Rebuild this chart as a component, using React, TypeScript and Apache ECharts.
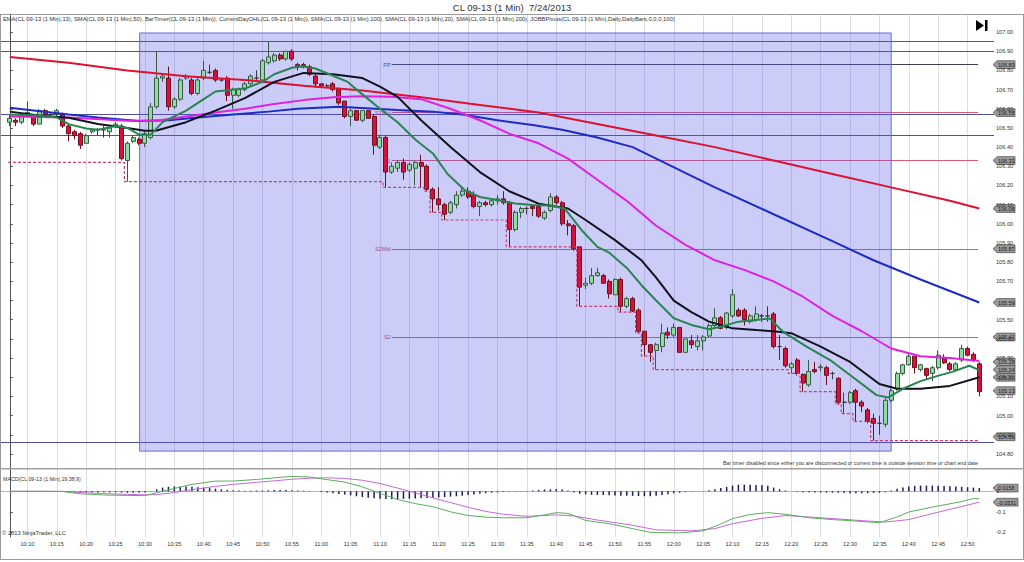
import React, { useEffect, useRef } from "react";
import * as echarts from "echarts";

const FONT = "'Liberation Sans', Arial, sans-serif";

const TITLE = "CL 09-13 (1 Min)  7/24/2013";
const INDICATORS =
  "EMA(CL 09-13 (1 Min),13), SMA(CL 09-13 (1 Min),50), BarTimer(CL 09-13 (1 Min)), CurrentDayOHL(CL 09-13 (1 Min)), SMA(CL 09-13 (1 Min),100), SMA(CL 09-13 (1 Min),20), SMA(CL 09-13 (1 Min),200), JOBBPivots(CL 09-13 (1 Min),Daily,DailyBars,0,0,0,100)";
const MACD_TITLE = "MACD(CL 09-13 (1 Min),19,38,9)";
const BAR_TIMER_NOTE =
  "Bar timer disabled since either you are disconnected or current time is outside session time or chart end date";
const COPYRIGHT = "\u00a9 2013 NinjaTrader, LLC";

// first bar 10:07, one bar per minute
const FIRST_BAR_MINUTE = 10 * 60 + 7;
const N_CATS = 169; // one empty slot before, two after the 166 bars
const X_MIN = -1.5;
const X_MAX = 167.5;

const TIME_LABELS = [
  "10:10", "10:15", "10:20", "10:25", "10:30", "10:35", "10:40", "10:45", "10:50", "10:55",
  "11:00", "11:05", "11:10", "11:15", "11:20", "11:25", "11:30", "11:35", "11:40", "11:45",
  "11:50", "11:55", "12:00", "12:05", "12:10", "12:15", "12:20", "12:25", "12:30", "12:35",
  "12:40", "12:45", "12:50",
];
const PRICE_TICKS = [
  104.8, 104.9, 105.0, 105.1, 105.2, 105.3, 105.4, 105.5, 105.6, 105.7, 105.8, 105.9,
  106.0, 106.1, 106.2, 106.3, 106.4, 106.5, 106.6, 106.7, 106.8, 106.9, 107.0,
];
// labels hidden behind value tags in the original
const PRICE_LABELS_HIDDEN = [105.6];
const MACD_TICKS = [0, -0.1, -0.2];
const PRICE_MIN = 104.727;
const PRICE_MAX = 107.094;
const MACD_MIN = -0.223;
const MACD_MAX = 0.109;

// [open, close, low, high]
const CANDLES: number[][] = [
  [106.53, 106.55, 106.51, 106.57], [106.54, 106.53, 106.51, 106.55], [106.53, 106.56, 106.52, 106.57],
  [106.57, 106.58, 106.56, 106.64], [106.56, 106.52, 106.51, 106.57], [106.52, 106.59, 106.52, 106.6],
  [106.59, 106.57, 106.56, 106.6], [106.57, 106.57, 106.56, 106.58], [106.57, 106.59, 106.56, 106.6],
  [106.57, 106.51, 106.5, 106.58], [106.51, 106.47, 106.43, 106.52], [106.48, 106.46, 106.44, 106.49],
  [106.47, 106.41, 106.39, 106.48], [106.42, 106.46, 106.42, 106.47], [106.48, 106.49, 106.47, 106.5],
  [106.49, 106.49, 106.46, 106.5], [106.49, 106.49, 106.45, 106.51], [106.48, 106.5, 106.45, 106.51],
  [106.51, 106.52, 106.5, 106.53], [106.51, 106.34, 106.33, 106.52], [106.33, 106.42, 106.22, 106.43],
  [106.43, 106.45, 106.42, 106.46], [106.44, 106.42, 106.41, 106.45], [106.42, 106.47, 106.4, 106.48],
  [106.45, 106.61, 106.44, 106.63], [106.61, 106.76, 106.6, 106.9], [106.76, 106.77, 106.74, 106.78],
  [106.76, 106.61, 106.59, 106.82], [106.61, 106.65, 106.6, 106.66], [106.65, 106.75, 106.64, 106.76],
  [106.76, 106.77, 106.75, 106.78], [106.75, 106.68, 106.67, 106.76], [106.68, 106.75, 106.67, 106.76],
  [106.76, 106.8, 106.75, 106.85], [106.79, 106.79, 106.78, 106.83], [106.8, 106.75, 106.74, 106.81],
  [106.75, 106.75, 106.74, 106.76], [106.76, 106.67, 106.64, 106.77], [106.67, 106.7, 106.6, 106.71],
  [106.67, 106.7, 106.66, 106.71], [106.7, 106.73, 106.69, 106.74], [106.73, 106.77, 106.72, 106.78],
  [106.76, 106.76, 106.75, 106.8], [106.75, 106.85, 106.74, 106.86], [106.84, 106.87, 106.83, 106.95],
  [106.85, 106.88, 106.84, 106.89], [106.88, 106.86, 106.85, 106.89], [106.86, 106.9, 106.85, 106.9],
  [106.9, 106.86, 106.85, 106.91], [106.83, 106.82, 106.8, 106.84], [106.83, 106.82, 106.81, 106.84],
  [106.82, 106.78, 106.77, 106.83], [106.77, 106.73, 106.71, 106.78], [106.73, 106.72, 106.71, 106.73],
  [106.72, 106.72, 106.71, 106.73], [106.73, 106.7, 106.69, 106.74], [106.7, 106.63, 106.62, 106.71],
  [106.64, 106.56, 106.55, 106.64], [106.56, 106.59, 106.51, 106.6], [106.59, 106.54, 106.54, 106.59],
  [106.54, 106.59, 106.53, 106.59], [106.59, 106.55, 106.55, 106.59], [106.56, 106.41, 106.36, 106.57],
  [106.4, 106.45, 106.39, 106.46], [106.45, 106.27, 106.19, 106.46], [106.27, 106.3, 106.26, 106.32],
  [106.29, 106.32, 106.27, 106.33], [106.32, 106.27, 106.23, 106.34], [106.28, 106.31, 106.27, 106.32],
  [106.29, 106.32, 106.2, 106.33], [106.32, 106.3, 106.19, 106.36], [106.3, 106.18, 106.17, 106.31],
  [106.18, 106.13, 106.06, 106.19], [106.13, 106.1, 106.07, 106.19], [106.1, 106.05, 106.02, 106.11],
  [106.06, 106.11, 106.05, 106.12], [106.1, 106.15, 106.08, 106.17], [106.15, 106.17, 106.14, 106.19],
  [106.17, 106.14, 106.13, 106.19], [106.15, 106.09, 106.08, 106.17], [106.09, 106.11, 106.04, 106.12],
  [106.11, 106.1, 106.09, 106.12], [106.1, 106.12, 106.09, 106.13], [106.12, 106.13, 106.1, 106.15],
  [106.13, 106.11, 106.1, 106.17], [106.11, 105.97, 105.88, 106.12], [105.97, 106.06, 105.96, 106.07],
  [106.06, 106.08, 106.03, 106.09], [106.08, 106.08, 106.05, 106.09], [106.09, 106.08, 106.04, 106.1],
  [106.09, 106.04, 106.03, 106.1], [106.03, 106.06, 106.02, 106.07], [106.07, 106.14, 106.06, 106.16],
  [106.14, 106.11, 106.1, 106.15], [106.11, 106.0, 105.99, 106.12], [106.0, 105.99, 105.94, 106.02],
  [105.99, 105.87, 105.86, 106.0], [105.88, 105.67, 105.57, 105.88], [105.68, 105.69, 105.66, 105.72],
  [105.69, 105.73, 105.68, 105.77], [105.73, 105.745, 105.725, 105.77], [105.73, 105.69, 105.69, 105.74],
  [105.7, 105.635, 105.61, 105.71], [105.63, 105.71, 105.63, 105.715], [105.71, 105.57, 105.54, 105.72],
  [105.57, 105.61, 105.56, 105.62], [105.61, 105.545, 105.54, 105.62], [105.55, 105.44, 105.43, 105.56],
  [105.44, 105.37, 105.31, 105.44], [105.37, 105.33, 105.28, 105.37], [105.34, 105.37, 105.24, 105.38],
  [105.36, 105.43, 105.33, 105.48], [105.435, 105.42, 105.4, 105.46], [105.42, 105.46, 105.41, 105.48],
  [105.46, 105.33, 105.33, 105.46], [105.33, 105.4, 105.33, 105.4], [105.39, 105.37, 105.35, 105.42],
  [105.36, 105.39, 105.34, 105.42], [105.39, 105.41, 105.34, 105.42], [105.415, 105.47, 105.41, 105.48],
  [105.47, 105.51, 105.46, 105.56], [105.51, 105.455, 105.45, 105.52], [105.46, 105.535, 105.45, 105.54],
  [105.52, 105.63, 105.51, 105.66], [105.55, 105.52, 105.515, 105.56], [105.55, 105.5, 105.47, 105.56],
  [105.49, 105.52, 105.48, 105.53], [105.5, 105.53, 105.49, 105.57], [105.52, 105.52, 105.49, 105.53],
  [105.52, 105.52, 105.49, 105.57], [105.53, 105.36, 105.35, 105.54], [105.36, 105.36, 105.29, 105.42],
  [105.35, 105.26, 105.25, 105.36], [105.25, 105.27, 105.22, 105.28], [105.29, 105.22, 105.21, 105.3],
  [105.215, 105.17, 105.125, 105.22], [105.16, 105.23, 105.15, 105.29], [105.24, 105.23, 105.22, 105.28],
  [105.25, 105.255, 105.23, 105.27], [105.25, 105.21, 105.16, 105.26], [105.22, 105.22, 105.19, 105.23],
  [105.195, 105.07, 105.06, 105.2], [105.07, 105.07, 105.01, 105.12], [105.07, 105.12, 105.06, 105.13],
  [105.13, 105.07, 104.97, 105.14], [105.07, 105.05, 105.02, 105.08], [105.03, 104.97, 104.96, 105.04],
  [104.985, 104.96, 104.87, 105.01], [104.96, 104.96, 104.9, 105.0], [104.955, 105.08, 104.94, 105.09],
  [105.08, 105.13, 105.07, 105.14], [105.14, 105.22, 105.13, 105.23], [105.22, 105.265, 105.21, 105.27],
  [105.265, 105.31, 105.26, 105.33], [105.31, 105.25, 105.22, 105.31], [105.24, 105.265, 105.23, 105.27],
  [105.245, 105.21, 105.19, 105.25], [105.22, 105.25, 105.18, 105.26], [105.25, 105.315, 105.24, 105.34],
  [105.3, 105.275, 105.27, 105.32], [105.27, 105.24, 105.23, 105.28], [105.24, 105.27, 105.23, 105.28],
  [105.29, 105.35, 105.28, 105.37], [105.35, 105.315, 105.31, 105.36], [105.32, 105.29, 105.28, 105.33],
  [105.27, 105.125, 105.1, 105.28],
];

// moving averages: [bar, value]
const EMA13 = [
  [0, 106.57], [5, 106.565], [8, 106.555], [10, 106.52], [13, 106.497], [15, 106.49], [18, 106.51], [20, 106.5],
  [22, 106.465], [24, 106.465], [26, 106.53], [28, 106.56], [30, 106.59], [33, 106.65], [35, 106.69], [38, 106.7],
  [40, 106.705], [43, 106.74], [45, 106.78], [48, 106.814], [50, 106.82], [52, 106.81], [55, 106.772], [57.5, 106.74],
  [60, 106.675], [63, 106.6], [66, 106.53], [69, 106.44], [72, 106.367], [74.5, 106.26], [77.4, 106.176], [80, 106.14],
  [83, 106.124], [86, 106.106], [89, 106.098], [92, 106.095], [94.4, 106.08], [97.3, 105.968], [100, 105.88],
  [102, 105.85], [105, 105.77], [107.5, 105.68], [110, 105.6], [113, 105.508], [116, 105.473], [119, 105.45],
  [121, 105.463], [124, 105.49], [127, 105.498], [129.3, 105.507], [131.6, 105.437], [135.6, 105.36], [139.6, 105.29],
  [143.5, 105.2], [147.5, 105.107], [149.5, 105.095], [152, 105.14], [155, 105.18], [158.2, 105.21], [160.4, 105.228],
  [163.3, 105.26], [165, 105.237],
];
const SMA20 = [
  [0, 106.585], [5, 106.565], [10, 106.553], [15, 106.52], [20, 106.5], [23, 106.485], [25, 106.487], [30, 106.53],
  [35, 106.59], [40, 106.655], [45, 106.74], [50, 106.787], [55, 106.78], [60, 106.76], [63, 106.715], [66, 106.662],
  [70, 106.54], [75, 106.4], [80, 106.27], [85, 106.17], [90, 106.105], [95, 106.08], [98, 106.02], [103, 105.915],
  [107.5, 105.81], [110, 105.72], [113, 105.6], [116, 105.54], [119, 105.49], [123, 105.455], [127, 105.446],
  [130, 105.44], [133, 105.43], [138, 105.36], [143, 105.28], [148, 105.165], [151, 105.14], [155, 105.14],
  [160, 105.155], [165, 105.2],
];
const SMA50 = [
  [0, 106.56], [10, 106.555], [20, 106.537], [25, 106.537], [30, 106.56], [35, 106.58], [40, 106.6], [45, 106.625],
  [50, 106.645], [55, 106.66], [60, 106.665], [65, 106.663], [70, 106.65], [75, 106.6], [80, 106.54], [85, 106.47],
  [90, 106.42], [95, 106.34], [100, 106.23], [105, 106.12], [110, 105.99], [115, 105.89], [120, 105.81], [125, 105.76],
  [130, 105.7], [135, 105.62], [140, 105.52], [145, 105.44], [150, 105.35], [155, 105.31], [160, 105.3], [165, 105.285],
];
const SMA100 = [
  [0, 106.605], [10, 106.57], [15, 106.555], [22, 106.536], [27, 106.54], [32, 106.555], [38, 106.57], [44, 106.585],
  [49, 106.6], [56, 106.61], [66, 106.593], [72, 106.585], [77, 106.57], [83, 106.54], [89, 106.515], [94, 106.49],
  [100, 106.45], [106, 106.4], [112, 106.31], [120, 106.19], [130, 106.05], [140, 105.91], [147, 105.81],
  [155, 105.71], [160, 105.65], [165, 105.59],
];
const SMA200 = [
  [0, 106.87], [10, 106.84], [20, 106.8], [30, 106.77], [40, 106.75], [50, 106.72], [60, 106.695], [70, 106.66],
  [80, 106.62], [90, 106.58], [100, 106.52], [110, 106.46], [120, 106.4], [130, 106.33], [140, 106.26], [150, 106.19],
  [160, 106.12], [165, 106.08],
];
// current-day low (step line)
const DAY_LOW = [
  [-0.3, 106.32], [19.5, 106.22], [63.5, 106.19], [70.5, 106.17], [71.5, 106.06], [73.5, 106.02], [84.5, 105.88],
  [96.5, 105.57], [103.5, 105.54], [106.5, 105.43], [107.5, 105.31], [109.5, 105.24], [132.5, 105.22],
  [134.5, 105.125], [140.5, 105.06], [141.5, 105.01], [143.5, 104.97], [146.5, 104.87], [164.8, 104.87],
];
const PIVOT_NAMES = ["PP", "S1Mid", "S1", "S2Mid", "S2"];
const PIVOT_VALUES = [106.83, 106.58, 106.33, 105.87, 105.41];
const PIVOT_FROM = 65;
const PIVOT_TO = 164.8;
const REF_LINES = [106.955, 106.9, 106.57, 106.463, 104.865];
const HIGHLIGHT_X = [22.1, 150];
const HIGHLIGHT_Y = [106.995, 104.815];

const MAIN_TAGS = [106.83, 106.58, 106.33, 106.08, 105.87, 105.59, 105.41, 105.28, 105.24, 105.2, 105.13, 104.89];
const MACD_TAGS = [0.0158, -0.0531];

// MACD panel
const MACD_LINE = [
  [0, 0], [5, 0], [9, -0.001], [12, -0.012], [16, -0.018], [20, -0.02], [23, -0.021], [25, -0.007], [28, 0.014],
  [31, 0.034], [35, 0.05], [38, 0.05], [42, 0.058], [45, 0.066], [48, 0.073], [51, 0.07], [54, 0.057], [57, 0.045],
  [60, 0.022], [63, -0.01], [66, -0.04], [69, -0.06], [72, -0.075], [75, -0.1], [78, -0.118], [81, -0.126],
  [84, -0.129], [88, -0.129], [91, -0.115], [93, -0.104], [95, -0.108], [98, -0.142], [102, -0.158], [106, -0.182],
  [109, -0.2], [114, -0.203], [118, -0.193], [121, -0.16], [123, -0.133], [126, -0.113], [129, -0.104], [132, -0.112],
  [136, -0.129], [140, -0.138], [144, -0.145], [148, -0.153], [151, -0.125], [153, -0.101], [157, -0.077],
  [162, -0.05], [164, -0.035], [165, -0.037],
];
const MACD_SIGNAL = [
  [0, 0], [9, 0], [12, -0.006], [16, -0.011], [20, -0.015], [23, -0.017], [25, -0.016], [28, -0.006], [31, 0.008],
  [35, 0.024], [38, 0.034], [42, 0.044], [45, 0.051], [48, 0.059], [51, 0.064], [54, 0.066], [57, 0.063], [60, 0.054],
  [63, 0.038], [66, 0.016], [69, -0.008], [72, -0.032], [75, -0.055], [78, -0.078], [81, -0.098], [84, -0.112],
  [88, -0.122], [93, -0.115], [96, -0.12], [100, -0.14], [106, -0.166], [110, -0.188], [116, -0.193], [120, -0.182],
  [123, -0.158], [128, -0.132], [132, -0.118], [138, -0.129], [146, -0.145], [149, -0.15], [153, -0.138],
  [157, -0.109], [162, -0.074], [165, -0.053],
];
const MACD_HIST = [
  0, 0, 0, 0, 0, 0, 0, 0, 0, -0.001,
  -0.003, -0.004, -0.005, -0.005, -0.006, -0.006, -0.005, -0.005, -0.005, -0.006,
  -0.007, -0.007, -0.007, -0.006, -0.001, 0.01, 0.018, 0.022, 0.024, 0.024,
  0.023, 0.022, 0.02, 0.018, 0.016, 0.013, 0.01, 0.007, 0.005, 0.004,
  0.003, 0.003, 0.004, 0.004, 0.005, 0.006, 0.006, 0.006, 0.005, 0.004,
  0.003, 0.002, 0, -0.003, -0.006, -0.01, -0.013, -0.016, -0.02, -0.024,
  -0.028, -0.031, -0.034, -0.036, -0.037, -0.038, -0.038, -0.037, -0.036, -0.035,
  -0.034, -0.033, -0.031, -0.03, -0.028, -0.026, -0.024, -0.021, -0.018, -0.015,
  -0.012, -0.009, -0.007, -0.005, -0.003, -0.002, -0.001, 0.001, 0.002, 0.004,
  0.007, 0.009, 0.01, 0.011, 0.009, 0.004, -0.006, -0.012, -0.015, -0.017,
  -0.018, -0.018, -0.019, -0.02, -0.021, -0.022, -0.022, -0.023, -0.024, -0.024,
  -0.022, -0.018, -0.014, -0.01, -0.007, -0.004, -0.002, 0, 0.002, 0.005,
  0.01, 0.016, 0.022, 0.028, 0.032, 0.033, 0.032, 0.031, 0.03, 0.027,
  0.018, 0.01, 0.004, 0, -0.002, -0.004, -0.005, -0.006, -0.006, -0.007,
  -0.007, -0.007, -0.008, -0.009, -0.009, -0.01, -0.009, -0.008, -0.007, -0.004,
  0.004, 0.012, 0.019, 0.024, 0.027, 0.028, 0.028, 0.028, 0.027, 0.026,
  0.025, 0.024, 0.022, 0.02, 0.018, 0.016,
];

const GRID_MAIN = { left: 1, right: 30, top: 14, height: 454 };
const GRID_MACD = { left: 1, right: 30, top: 469, height: 68 };

function tag(id: string, y: number, text: string, w: number) {
  return {
    type: "group",
    id,
    x: 993,
    y,
    z: 50,
    children: [
      {
        type: "polygon",
        shape: { points: [[0, 0], [4, -3.9], [w, -3.9], [w, 3.9], [4, 3.9]] },
        style: { fill: "#9a9a9a", stroke: "#4a4a4a", lineWidth: 0.7 },
      },
      {
        type: "text",
        x: 5,
        y: 0.3,
        style: { text, fontSize: 5.4, fill: "#1a1a1a", verticalAlign: "middle", fontFamily: FONT },
      },
    ],
  };
}

export default function App() {
  const ref = useRef<HTMLDivElement>(null);
  useEffect(() => {
    const el = ref.current;
    if (!el) return;
    const chart = echarts.init(el, null, { renderer: "svg" });

    const categories = Array.from({ length: N_CATS }, (_, k) => {
      const m = FIRST_BAR_MINUTE + k - 1;
      return `${Math.floor(m / 60)}:${String(m % 60).padStart(2, "0")}`;
    });
    const tickCats = TIME_LABELS.map((t) => categories.indexOf(t));
    const tickSet = new Set(tickCats);
    const tickBars = tickCats.map((k) => k - 1);
    const priceLabels = PRICE_TICKS.filter((v) => !PRICE_LABELS_HIDDEN.includes(v));

    const vGrid = tickBars.map((b) => ({
      xAxis: b,
      lineStyle: { color: "#dcdce6", width: 1, type: "solid" },
      label: { show: false },
    }));
    const refLines = REF_LINES.map((v) => ({
      yAxis: v,
      lineStyle: { color: "#50509c", width: 1, type: "solid" },
      label: { show: false },
    }));
    const pivots = PIVOT_VALUES.map((v, j) => {
      const color = j === 0 ? "#3e3e52" : "#d45a78";
      return [
        {
          coord: [PIVOT_FROM, v],
          name: PIVOT_NAMES[j],
          lineStyle: { color, width: 1, type: "solid" },
          label: {
            show: true,
            position: "start",
            distance: 1,
            formatter: "{b}",
            fontSize: 5.6,
            color: j === 0 ? "#4a4a5a" : "#c04a6c",
            fontFamily: FONT,
          },
        },
        { coord: [PIVOT_TO, v] },
      ];
    });

    const maLine = (name: string, data: number[][], color: string) => ({
      name,
      type: "line",
      xAxisIndex: 1,
      yAxisIndex: 0,
      data,
      symbol: "none",
      smooth: false,
      z: 6,
      lineStyle: { color, width: 2 },
      silent: true,
    });

    const option: any = {
      animation: false,
      backgroundColor: "#ffffff",
      textStyle: { fontFamily: FONT },
      title: {
        text: TITLE,
        left: "center",
        top: 2,
        padding: 0,
        textStyle: { fontSize: 9.5, fontWeight: "normal", color: "#333", fontFamily: FONT },
      },
      grid: [
        { ...GRID_MAIN, outerBoundsMode: "none" },
        { ...GRID_MACD, outerBoundsMode: "none" },
      ],
      xAxis: [
        { type: "category", gridIndex: 0, data: categories, boundaryGap: true, show: false },
        { type: "value", gridIndex: 0, min: X_MIN, max: X_MAX, show: false },
        {
          type: "category",
          gridIndex: 1,
          data: categories,
          boundaryGap: true,
          axisLine: { show: true, lineStyle: { color: "#707070" } },
          axisTick: {
            show: true,
            alignWithLabel: true,
            interval: (i: number) => tickSet.has(i),
            length: 3,
            lineStyle: { color: "#707070" },
          },
          axisLabel: {
            interval: (i: number) => tickSet.has(i),
            fontSize: 5.6,
            color: "#333",
            margin: 4,
            fontFamily: FONT,
          },
          splitLine: { show: false },
        },
        { type: "value", gridIndex: 1, min: X_MIN, max: X_MAX, show: false },
      ],
      yAxis: [
        {
          type: "value",
          gridIndex: 0,
          position: "right",
          min: PRICE_MIN,
          max: PRICE_MAX,
          axisLine: { show: true, lineStyle: { color: "#555" } },
          axisTick: { show: true, length: 3, customValues: PRICE_TICKS, lineStyle: { color: "#555" } },
          axisLabel: {
            customValues: priceLabels,
            formatter: (v: number) => v.toFixed(2),
            fontSize: 5.6,
            color: "#333",
            margin: 2,
            fontFamily: FONT,
          },
          splitLine: { show: false },
        },
        {
          type: "value",
          gridIndex: 1,
          position: "right",
          min: MACD_MIN,
          max: MACD_MAX,
          axisLine: { show: true, lineStyle: { color: "#555" } },
          axisTick: { show: true, length: 3, customValues: MACD_TICKS, lineStyle: { color: "#555" } },
          axisLabel: {
            customValues: MACD_TICKS,
            formatter: (v: number) => (Math.abs(v) < 1e-9 ? "0" : String(Number(v.toFixed(1)))),
            fontSize: 5.6,
            color: "#333",
            margin: 2,
            fontFamily: FONT,
          },
          splitLine: { show: false },
        },
      ],
      series: [
        {
          name: "CL",
          type: "candlestick",
          xAxisIndex: 0,
          yAxisIndex: 0,
          data: CANDLES.map((c, i) => [i + 1, c[0], c[1], c[2], c[3]]),
          encode: { x: 0, y: [1, 2, 3, 4] },
          barWidth: 4.5,
          z: 3,
          silent: true,
          itemStyle: {
            color: "#8edc9e",
            color0: "#d6123a",
            borderColor: "#3a5a46",
            borderColor0: "#6e1020",
            borderColorDoji: "#3a3a3a",
            borderWidth: 1,
          },
        },
        {
          name: "DayLow",
          type: "line",
          xAxisIndex: 1,
          yAxisIndex: 0,
          data: DAY_LOW,
          step: "end",
          symbol: "none",
          z: 5,
          silent: true,
          lineStyle: { color: "#c8406c", width: 1.2, type: [3, 2] },
          markLine: {
            silent: true,
            symbol: "none",
            z: 1,
            animation: false,
            label: { show: false },
            data: [...vGrid, ...refLines, ...pivots],
          },
          markArea: {
            silent: true,
            z: 2,
            itemStyle: { color: "rgba(85,85,232,0.3)", borderColor: "#6a6ad6", borderWidth: 1 },
            data: [[{ coord: [HIGHLIGHT_X[0], HIGHLIGHT_Y[0]] }, { coord: [HIGHLIGHT_X[1], HIGHLIGHT_Y[1]] }]],
          },
        },
        maLine("SMA200", SMA200, "#dc1232"),
        maLine("SMA100", SMA100, "#1c2cc4"),
        maLine("SMA50", SMA50, "#de22de"),
        maLine("SMA20", SMA20, "#12121e"),
        maLine("EMA13", EMA13, "#2a8450"),
        {
          name: "Diff",
          type: "bar",
          xAxisIndex: 2,
          yAxisIndex: 1,
          data: MACD_HIST.map((v, i) => [i + 1, v]),
          barWidth: 1.5,
          silent: true,
          itemStyle: { color: "#1e1e5a" },
        },
        {
          name: "Avg",
          type: "line",
          xAxisIndex: 3,
          yAxisIndex: 1,
          data: MACD_SIGNAL,
          symbol: "none",
          silent: true,
          lineStyle: { color: "#c468d6", width: 1 },
          markLine: {
            silent: true,
            symbol: "none",
            z: 1,
            label: { show: false },
            data: [
              ...tickBars.map((b) => ({ xAxis: b, lineStyle: { color: "#dcdce6", width: 1, type: "solid" } })),
              { yAxis: 0, lineStyle: { color: "#b4b4b4", width: 1, type: "solid" } },
            ],
          },
        },
        {
          name: "MACD",
          type: "line",
          xAxisIndex: 3,
          yAxisIndex: 1,
          data: MACD_LINE,
          symbol: "none",
          silent: true,
          lineStyle: { color: "#5aae5a", width: 1 },
        },
      ],
    };
    chart.setOption(option);

    const frame = "#9a9a9a";
    const statics: any[] = [
      { type: "line", id: "fTop", shape: { x1: 0, y1: 14.5, x2: 1024, y2: 14.5 }, style: { stroke: frame, lineWidth: 1 }, z: 40 },
      { type: "line", id: "fLeft", shape: { x1: 0.5, y1: 14, x2: 0.5, y2: 560 }, style: { stroke: frame, lineWidth: 1 }, z: 40 },
      { type: "line", id: "fRight", shape: { x1: 1023.5, y1: 14, x2: 1023.5, y2: 560 }, style: { stroke: frame, lineWidth: 1 }, z: 40 },
      { type: "line", id: "fBot", shape: { x1: 0, y1: 559.5, x2: 1024, y2: 559.5 }, style: { stroke: frame, lineWidth: 1 }, z: 40 },
      { type: "line", id: "fSep", shape: { x1: 0, y1: 468.8, x2: 1024, y2: 468.8 }, style: { stroke: "#a0a0a0", lineWidth: 1.6 }, z: 40 },
      {
        type: "text", id: "ind", x: 3, y: 16, z: 41,
        style: { text: INDICATORS, fontSize: 5.8, fill: "#333", fontFamily: FONT },
      },
      {
        type: "text", id: "timer", x: 978, y: 460, z: 41,
        style: { text: BAR_TIMER_NOTE, fontSize: 5.3, fill: "#333", fontFamily: FONT, align: "right" },
      },
      {
        type: "text", id: "macdT", x: 3, y: 476, z: 41,
        style: { text: MACD_TITLE, fontSize: 5.3, fill: "#333", fontFamily: FONT },
      },
      {
        type: "text", id: "copy", x: 2, y: 529.5, z: 41,
        style: { text: COPYRIGHT, fontSize: 5.8, fill: "#333", fontFamily: FONT },
      },
      {
        type: "polygon", id: "playTri", z: 41,
        shape: { points: [[976, 20], [984, 25.5], [976, 31]] },
        style: { fill: "#000" },
      },
      { type: "rect", id: "playBar", z: 41, shape: { x: 985, y: 20, width: 2.5, height: 11 }, style: { fill: "#000" } },
    ];
    const tags: any[] = [];
    MAIN_TAGS.forEach((v, j) => {
      const y = chart.convertToPixel({ yAxisIndex: 0 } as any, v) as unknown as number;
      tags.push(tag(`mt${j}`, y, v.toFixed(2), 22));
    });
    MACD_TAGS.forEach((v, j) => {
      const y = chart.convertToPixel({ yAxisIndex: 1 } as any, v) as unknown as number;
      tags.push(tag(`md${j}`, y, v.toFixed(4), 25));
    });
    chart.setOption({ graphic: { elements: [...statics, ...tags] } });

    return () => chart.dispose();
  }, []);
  return (
    <div
      ref={ref}
      style={{ position: "fixed", left: 0, top: 0, width: 1024, height: 562, background: "#fff" }}
    />
  );
}
